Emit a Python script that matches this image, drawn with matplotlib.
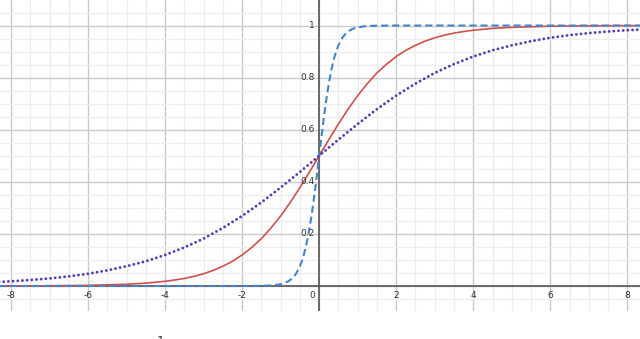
import numpy as np
import matplotlib
matplotlib.use("Agg")
import matplotlib.pyplot as plt
from matplotlib.ticker import MultipleLocator

# --- values ---
# red solid curve
red_x = [-8.5, -8, -7, -6, -5, -4.5, -4, -3.75, -3.5, -3.25, -3, -2.75, -2.5, -2.25,
         -2, -1.75, -1.5, -1.25, -1, -0.75, -0.5, -0.25, 0, 0.25, 0.5, 0.75, 1, 1.25,
         1.5, 1.75, 2, 2.25, 2.5, 2.75, 3, 3.25, 3.5, 3.75, 4, 4.5, 5, 6, 7, 8, 8.5]
red_y = [0.0002, 0.0003, 0.0009, 0.0025, 0.0067, 0.011, 0.018, 0.023, 0.029, 0.037,
         0.047, 0.060, 0.076, 0.095, 0.119, 0.148, 0.182, 0.223, 0.269, 0.321, 0.378,
         0.438, 0.5, 0.562, 0.622, 0.679, 0.731, 0.777, 0.818, 0.852, 0.881, 0.905,
         0.924, 0.940, 0.953, 0.963, 0.971, 0.977, 0.982, 0.989, 0.993, 0.9975,
         0.9991, 0.9997, 0.9998]

# blue dashed curve (steep)
blue_x = [-8.5, -2, -1.5, -1.2, -1, -0.9, -0.8, -0.7, -0.6, -0.5, -0.45, -0.4, -0.35,
          -0.3, -0.25, -0.2, -0.15, -0.1, -0.05, 0, 0.05, 0.1, 0.15, 0.2, 0.25, 0.3,
          0.35, 0.4, 0.45, 0.5, 0.6, 0.7, 0.8, 0.9, 1.0, 1.2, 1.5, 2, 8.5]
blue_y = [0.0, 0.00005, 0.0006, 0.0025, 0.0067, 0.011, 0.018, 0.029, 0.047, 0.076,
          0.095, 0.119, 0.148, 0.182, 0.223, 0.269, 0.321, 0.378, 0.438, 0.5, 0.562,
          0.622, 0.679, 0.731, 0.777, 0.818, 0.852, 0.881, 0.905, 0.924, 0.953, 0.971,
          0.982, 0.989, 0.9933, 0.9975, 0.9994, 1.0, 1.0]

# purple dotted curve (gentle)
purple_x = [-8.5, -8, -7.5, -7, -6.5, -6, -5.5, -5, -4.5, -4, -3.5, -3, -2.5, -2, -1.5,
            -1, -0.5, 0, 0.5, 1, 1.5, 2, 2.5, 3, 3.5, 4, 4.5, 5, 5.5, 6, 6.5, 7, 7.5,
            8, 8.5]
purple_y = [0.0141, 0.018, 0.023, 0.029, 0.037, 0.047, 0.060, 0.076, 0.095, 0.119,
            0.148, 0.182, 0.223, 0.269, 0.321, 0.378, 0.438, 0.5, 0.562, 0.622, 0.679,
            0.731, 0.777, 0.818, 0.852, 0.881, 0.905, 0.924, 0.940, 0.953, 0.963,
            0.971, 0.977, 0.982, 0.986]

x_ticks = [-8, -6, -4, -2, 2, 4, 6, 8]
y_ticks = [0.2, 0.4, 0.6, 0.8, 1]
y_labels = ["0.2", "0.4", "0.6", "0.8", "1"]

fig = plt.figure(figsize=(6.4, 3.39), dpi=100)
ax = fig.add_axes([0, 28 / 339, 1, 311 / 339])
ax.set_xlim(-8.286, 8.328)
ax.set_ylim(-0.096, 1.098)

# grid like a graphing calculator
ax.xaxis.set_major_locator(MultipleLocator(2))
ax.xaxis.set_minor_locator(MultipleLocator(0.5))
ax.yaxis.set_major_locator(MultipleLocator(0.2))
ax.yaxis.set_minor_locator(MultipleLocator(0.05))
ax.grid(which="major", color="#cacaca", lw=1.0)
ax.grid(which="minor", color="#ededed", lw=0.9)
ax.set_axisbelow(True)
ax.tick_params(which="both", length=0, labelbottom=False, labelleft=False)
for s in ax.spines.values():
    s.set_visible(False)

ax.axhline(0, color="#555555", lw=1.2, zorder=2)
ax.axvline(0, color="#555555", lw=1.2, zorder=2)

# curves
ax.plot(red_x, red_y, color="#d0504c", lw=1.2, zorder=3)
ax.plot(blue_x, blue_y, color="#4584c6", lw=1.5, linestyle=(0, (3.4, 1.9)), zorder=4)
ax.plot(purple_x, purple_y, color="#5a3cae", lw=2.1, linestyle=(0, (0.01, 1.6)),
        dash_capstyle="round", zorder=5)

# tick labels drawn next to the axes
lab = dict(fontsize=6.5, color="#333333", zorder=6)
for t in x_ticks:
    ax.annotate(str(t), (t, 0), xytext=(0, -7), textcoords="offset points",
                ha="center", va="center", **lab)
for t, s in zip(y_ticks, y_labels):
    ax.annotate(s, (0, t), xytext=(-3, 0), textcoords="offset points",
                ha="right", va="center", **lab)
ax.annotate("0", (0, 0), xytext=(-3, -7), textcoords="offset points",
            ha="right", va="center", **lab)

# cut-off text at the bottom edge (only its top shows in the reference)
fig.text(161 / 640, 4 / 339, "1", fontsize=9, color="#333333", ha="center", va="top")

fig.savefig("out.png", dpi=100)
